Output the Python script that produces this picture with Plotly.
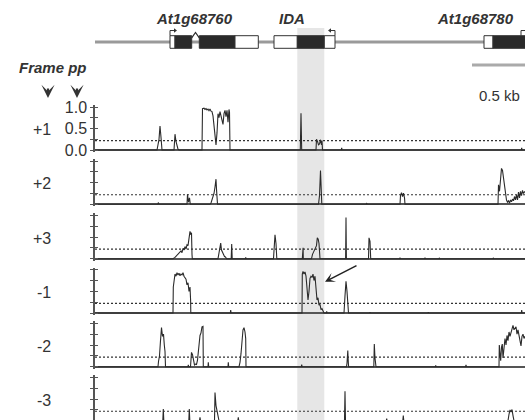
import plotly.graph_objects as go

# ---------------- data ----------------
BIN_BP = 9                      # one position bin along the locus = 9 bp
locus_bins = [0, 430]
frame_names = ["+1", "+2", "+3", "-1", "-2", "-3"]
pp_threshold = 0.22
pp_tickvals = [0, 0.25, 0.5, 0.75, 1.0]
pp_ticktext = ["0.0", "", "0.5", "", "1.0"]

# (position bin, posterior probability)
frame_p1 = [(0,0),(62,0),(64,0.25),(65,0.56),(66,0.3),(67,0),(79,0),(80,0.37),(81,0.2),(82,0.08),(83,0.02),(84,0),
            (107,0),(107.5,0.97),(109,0.98),(110,0.95),(111,0.97),(112,0.94),(113,0.96),(114,0.92),(115,0.96),(116,0.91),
            (117,0.9),(118,0.8),(119,0.55),(120,0.3),(121,0.12),(122,0.4),(123,0.85),(124,0.76),(125,0.9),(126,0.8),
            (127,0.68),(128,0.6),(129,0.85),(130,0.93),(131,0.78),(132,0.93),(133,0.65),(134,0.95),(134.5,0.88),(135,0),
            (205.3,0),(206,0.86),(206.7,0),(221,0),(221.5,0.25),(222.5,0.2),(223.5,0.12),(224.5,0.14),(225.5,0.24),
            (226.5,0.12),(227,0.22),(227.5,0),(246.3,0),(246.7,0.05),(247.1,0),(426.3,0),(426.7,0.05),(427.1,0),(430,0)]
frame_p2 = [(0,0),(62.8,0),(63.3,0.04),(64,0),(92,0),(92.5,0.23),(93.5,0.05),(94.5,0.15),(95.3,0),
            (115,0),(116,0.03),(117,0.1),(118,0.2),(119,0.25),(120,0.4),(121,0.58),(121.5,0.35),(122,0.1),(122.5,0),
            (223.5,0),(224.5,0.2),(225.5,0.78),(226.2,0.3),(226.8,0),(271,0),(271.7,0.02),(272.3,0),
            (305,0),(305.5,0.2),(306.5,0.27),(307.5,0.18),(308.5,0.26),(309.5,0.15),(310,0),
            (403,0),(403.5,0.45),(404.5,0.3),(405.5,0.7),(406.5,0.83),(407.5,0.78),(408.5,0.6),(409.5,0.45),(410.5,0.25),
            (411.5,0.1),(412.5,0.05),(413.5,0.08),(414.5,0.03),(415.5,0.1),(416.5,0.06),(417.5,0.12),(418.5,0.08),
            (419.5,0.18),(420.5,0.1),(421.5,0.22),(422.5,0.1),(423.5,0.28),(424.5,0.15),(425.5,0.3),(426.5,0.2),
            (427.5,0.32),(428.5,0.25),(430,0.3)]
frame_p3 = [(0,0),(78,0),(80,0.03),(82,0.08),(84,0.12),(86,0.18),(87,0.14),(88,0.24),(89,0.2),(90,0.28),(91,0.22),
            (92,0.32),(93,0.3),(94,0.45),(95,0.63),(96,0.55),(96.5,0.6),(97,0.1),(97.3,0),
            (123,0),(124,0.15),(125,0.3),(125.7,0.36),(126.5,0.2),(127.5,0.15),(128.5,0.08),(129.5,0.05),(130.5,0.04),(131.5,0),
            (136.2,0),(136.7,0.34),(137.2,0),(150.3,0),(150.7,0.03),(151.1,0),
            (178.5,0),(179.5,0.3),(180,0.55),(181,0.35),(181.8,0),(207.3,0),(207.5,0.25),(208.1,0.25),(208.3,0),
            (216.5,0),(217.5,0.1),(218.5,0.15),(219.5,0.18),(220.5,0.25),(221.5,0.3),(222.3,0.48),(223.2,0.45),(224,0.35),(225,0),
            (250.6,0),(251,0.95),(251.4,0),(273.5,0),(274,0.48),(275,0.4),(275.7,0),
            (304.6,0),(305,0.02),(305.4,0),(329.6,0),(330,0.02),(330.4,0),(344,0),(344.3,0.02),(344.7,0),
            (398,0),(398.3,0.02),(398.7,0),(430,0)]
frame_m1 = [(0,0),(78,0),(78.3,0.6),(79,0.82),(80,0.9),(81,0.85),(82,0.93),(83,0.88),(84,0.92),(85,0.86),(86,0.9),
            (87,0.88),(88,0.93),(89,0.85),(90,0.8),(91,0.78),(92,0.65),(93,0.7),(94,0.5),(95,0.6),(95.6,0.3),(95.8,0),
            (135.3,0),(135.7,0.07),(136.1,0),
            (207,0),(207.3,0.9),(208,0.96),(209,0.9),(210,0.95),(211,0.85),(212,0.6),(213,0.3),(214,0.5),(215,0.8),
            (216,0.85),(217,0.82),(218,0.9),(219,0.75),(220,0.85),(221,0.45),(222,0.3),(223,0.35),(224,0.18),(225,0.2),
            (226,0.08),(227,0.1),(228,0.02),(229,0),(231.3,0),(231.7,0.04),(232.1,0),
            (249,0),(250,0.4),(251,0.73),(252,0.5),(253,0.1),(253.5,0),
            (274.6,0),(275,0.02),(275.4,0),(333,0),(333.3,0.02),(333.7,0),(426.3,0),(426.7,0.07),(427.1,0),(430,0)]
frame_m2 = [(0,0),(63,0),(63.5,0.12),(64.5,0.25),(65.5,0.6),(66.5,0.9),(67.5,0.7),(68.5,0.75),(69.3,0.5),(70,0.35),(70.5,0),
            (93,0),(93.3,0.04),(93.7,0),
            (95.5,0),(96,0.2),(96.5,0.33),(97.5,0.28),(98.5,0.1),(99.5,0.04),(100.5,0.06),(101.5,0.05),(102.5,0.15),
            (103,0.3),(104,0.55),(105,0.72),(106,0.78),(107,0.92),(108,0.93),(108.3,0),
            (113,0),(113.3,0.1),(113.7,0),(133,0),(133.3,0.1),(133.7,0),
            (144,0),(145,0.1),(146,0.3),(147,0.55),(148,0.85),(149,0.9),(150,0.8),(150.7,0.65),(151,0),
            (206.3,0),(206.7,0.05),(207.1,0),(251.5,0),(252,0.08),(252.8,0.37),(253.3,0.1),(253.6,0),
            (278.8,0),(279.3,0.52),(280,0.2),(280.7,0.1),(281,0),
            (340.3,0),(340.7,0.03),(341.1,0),(370.6,0),(371,0.04),(371.4,0),
            (404,0),(404.3,0.5),(405,0.3),(405.7,0.14),(406.5,0.45),(407.3,0.52),(408,0.2),(409,0.45),(410,0.65),
            (411,0.5),(412,0.72),(413,0.6),(414,0.8),(415,0.7),(416,0.78),(417,0.88),(418,0.95),(419,0.85),(420,0.88),
            (421,0.92),(422,0.75),(423,0.85),(424,0.72),(425,0.62),(426,0.48),(427,0.7),(428,0.75),(429,0.65),(430,0.7)]
frame_m3 = [(0,0),(67.8,0),(68.3,0.27),(68.8,0),(93.8,0),(94.3,0.27),(94.8,0),(104.5,0),(105,0.08),(105.5,0),
            (119.5,0),(120,0.65),(121,0.35),(122,0.23),(123,0.12),(124,0),(142.8,0),(143.3,0.08),(143.8,0),
            (249.5,0),(250,0.68),(250.5,0),(291.3,0),(291.7,0.05),(292.1,0),(307.8,0),(308.3,0.12),(308.8,0),
            (413,0),(414,0.15),(415,0.25),(416,0.2),(417,0.26),(418,0.12),(419,0),(430,0)]

# gene models (position bins)
gene_names = ["At1g68760", "IDA", "At1g68780"]
gene_label_pos = [99, 197, 380]
exon_start = [75, 80, 104.3, 140, 179, 202.3, 229.3, 389, 398]
exon_end   = [80, 96.7, 140, 163.3, 202.3, 229.3, 240, 398, 440]
exon_kind  = ["UTR", "CDS", "CDS", "UTR", "UTR", "CDS", "UTR", "UTR", "CDS"]
intron_start, intron_end = 96.7, 104.3
tss_pos = [75, 240, 426]
tss_dir = [1, -1, 1]
highlight_exon = 5               # IDA coding region shaded
scale_bar_start = 377
scale_bar_bp = 500

# ---------------- style / layout ----------------
W, H = 525, 420
L, PW = 95, 430
FONT = "Arial, Liberation Sans, sans-serif"
TXT = "#333333"
AX = "#555555"
LINE = "#2b2b2b"
row_px = [(107.3, 150.0), (161.0, 204.3), (215.3, 258.7), (269.7, 313.0), (323.3, 366.7), (377.3, 420.8)]


def py2p(py):
    return 1 - py / H


def px2p(px):
    return (px - L) / PW


fig = go.Figure()
layout = dict(width=W, height=H, margin=dict(l=L, r=0, t=0, b=0, autoexpand=False), paper_bgcolor="white",
              plot_bgcolor="rgba(0,0,0,0)", showlegend=False, barmode="overlay",
              font=dict(family=FONT, color=TXT), shapes=[], annotations=[])

frames = [frame_p1, frame_p2, frame_p3, frame_m1, frame_m2, frame_m3]
for i, (name, data) in enumerate(zip(frame_names, frames)):
    n = i + 1
    xs = "x" if n == 1 else f"x{n}"
    ys = "y" if n == 1 else f"y{n}"
    sfx = "" if n == 1 else str(n)
    pt, pb = row_px[i]
    h = pb - pt
    top, bot = pt - 2, min(pb + 2, H)
    rng = [(pb - bot) / h, (pb - top) / h]
    dom = [py2p(bot), py2p(top)]
    layout["xaxis" + sfx] = dict(domain=[0, 1], range=locus_bins, visible=False, anchor=ys, fixedrange=True)
    layout["yaxis" + sfx] = dict(domain=dom, range=rng, anchor=xs, showline=True, linecolor=AX, linewidth=1.5,
                                 ticks="outside", ticklen=3, tickwidth=1.2, tickcolor=AX,
                                 tickmode="array", tickvals=pp_tickvals, ticktext=pp_ticktext,
                                 showticklabels=(n == 1), tickfont=dict(size=16, color=TXT, family=FONT),
                                 showgrid=False, zeroline=True, zerolinecolor=AX, zerolinewidth=1.5,
                                 fixedrange=True, automargin=False)
    ov = f"y{8 + i}"
    layout[f"yaxis{8 + i}"] = dict(overlaying=ys, anchor=xs, range=rng, side="left", ticks="inside", ticklen=3,
                                   tickwidth=1.2, tickcolor=AX, tickmode="array", tickvals=pp_tickvals,
                                   showticklabels=False, showline=False, showgrid=False, zeroline=False,
                                   fixedrange=True, automargin=False)
    fig.add_trace(go.Scatter(x=[None], y=[None], xaxis=xs, yaxis=ov, hoverinfo="skip"))
    fig.add_trace(go.Scatter(x=locus_bins, y=[pp_threshold] * 2, mode="lines", xaxis=xs, yaxis=ys,
                             line=dict(color="#333333", width=1.2, dash="2px,2px"), hoverinfo="skip"))
    pos = [p for p, v in data]
    val = [v for p, v in data]
    fig.add_trace(go.Scatter(x=pos, y=val, mode="lines", xaxis=xs, yaxis=ys,
                             line=dict(color=LINE, width=1.1)))
    layout["annotations"].append(dict(x=px2p(53), y=py2p((pt + pb) / 2 + 1), xref="paper", yref="paper",
                                      text=name, showarrow=False, xanchor="right", yanchor="middle",
                                      font=dict(size=16, color=TXT)))

# gene track
layout["xaxis7"] = dict(domain=[0, 1], range=locus_bins, visible=False, anchor="y7", fixedrange=True)
layout["yaxis7"] = dict(domain=[py2p(56), py2p(28)], range=[-1, 1], visible=False, anchor="x7", fixedrange=True)
fig.add_trace(go.Bar(x=[locus_bins[1] - locus_bins[0]], base=[locus_bins[0]], y=[0], orientation="h", width=0.2,
                     marker=dict(color="#9a9a9a", line=dict(width=0)), xaxis="x7", yaxis="y7", hoverinfo="skip"))
fig.add_trace(go.Bar(x=[e - s for s, e in zip(exon_start, exon_end)], base=exon_start, y=[0] * len(exon_start),
                     orientation="h", width=0.9,
                     marker=dict(color=["#2a2a2a" if k == "CDS" else "white" for k in exon_kind],
                                 line=dict(color="#333333", width=1)),
                     xaxis="x7", yaxis="y7", hoverinfo="skip"))
fig.add_trace(go.Scatter(x=[intron_start, (intron_start + intron_end) / 2, intron_end], y=[0.3, 0.68, 0.3],
                         mode="lines", line=dict(color="#2a2a2a", width=1.2), xaxis="x7", yaxis="y7"))
for p, d in zip(tss_pos, tss_dir):
    fig.add_trace(go.Scatter(x=[p, p, p + 5 * d], y=[0.45, 0.82, 0.82], mode="lines",
                             line=dict(color="#333333", width=1), xaxis="x7", yaxis="y7"))
    fig.add_trace(go.Scatter(x=[p + 5 * d], y=[0.82], mode="markers", xaxis="x7", yaxis="y7",
                             marker=dict(symbol="triangle-right" if d > 0 else "triangle-left", size=4,
                                         color="#333333")))
for g, gx in zip(gene_names, gene_label_pos):
    layout["annotations"].append(dict(x=gx, y=py2p(19), xref="x7", yref="paper", text=f"<b><i>{g}</i></b>",
                                      showarrow=False, xanchor="center", yanchor="middle",
                                      font=dict(size=15, color=TXT)))

# shaded IDA band
layout["shapes"].append(dict(type="rect", xref="x7", yref="paper", x0=exon_start[highlight_exon],
                             x1=exon_end[highlight_exon], y0=0, y1=py2p(28), fillcolor="#e6e6e6",
                             line=dict(width=0), layer="below"))
# scale bar
layout["shapes"].append(dict(type="line", xref="x7", yref="paper", x0=scale_bar_start,
                             x1=scale_bar_start + scale_bar_bp / BIN_BP, y0=py2p(65), y1=py2p(65),
                             line=dict(color="#aaaaaa", width=3)))
layout["annotations"].append(dict(x=px2p(522), y=py2p(85), xref="paper", yref="paper", text="0.5 kb",
                                  showarrow=False, xanchor="right", font=dict(size=15, color=TXT)))
layout["annotations"].append(dict(x=px2p(17), y=py2p(68), xref="paper", yref="paper",
                                  text="<b><i>Frame pp</i></b>", showarrow=False, xanchor="left",
                                  yanchor="middle", font=dict(size=15, color=TXT)))
for axp in [48, 77]:
    layout["annotations"].append(dict(x=px2p(axp), y=py2p(98), xref="paper", yref="paper", text="",
                                      showarrow=True, ax=0, ay=-11, arrowhead=3, arrowsize=1.0,
                                      arrowwidth=2.2, arrowcolor="#333333"))
# arrow pointing to the IDA ORF in frame -1
layout["annotations"].append(dict(x=230, y=0.72, xref="x4", yref="y4", text="", showarrow=True,
                                  ax=33, ay=-17, arrowhead=3, arrowsize=1.1, arrowwidth=1.5,
                                  arrowcolor="#222222"))

fig.update_layout(**layout)
fig.write_html("out.html", config={"displayModeBar": False},
               post_script="document.body.style.margin='0px';document.body.style.overflow='hidden';")
